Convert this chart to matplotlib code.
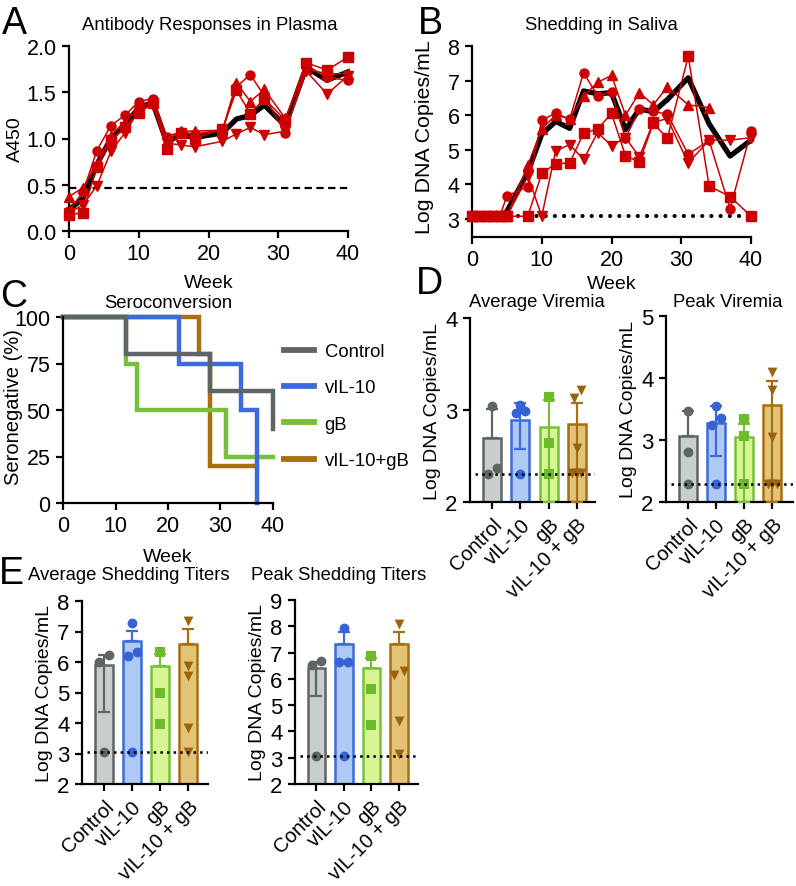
import numpy as np
import matplotlib
matplotlib.use("Agg")
import matplotlib.pyplot as plt
from matplotlib.lines import Line2D

plt.rcParams['font.family'] = ['Liberation Sans', 'DejaVu Sans']

W, H = 796, 887
RED = '#cc0000'

# ---- panel A: antibody responses (A450) ----
weeks_a = [0, 2, 4, 6, 8, 10, 12, 14, 16, 18, 22, 24, 26, 28, 31, 34, 37, 40]
circle_a = [0.22, 0.42, 0.87, 1.14, 1.25, 1.40, 1.43, 1.02, 1.07, 1.05, 1.09, 1.56, 1.69, 1.46, 1.06, 1.78, 1.66, 1.63]
square_a = [0.17, 0.20, 0.69, 0.98, 1.12, 1.28, 1.38, 0.89, 1.06, 1.00, 1.10, 1.52, 1.27, 1.43, 1.20, 1.82, 1.74, 1.88]
triup_a = [0.37, 0.47, 0.72, 1.03, 1.18, 1.33, 1.40, 0.97, 1.08, 1.08, 1.09, 1.60, 1.40, 1.53, 1.22, 1.75, 1.70, 1.70]
tridown_a = [0.20, 0.28, 0.49, 0.86, 1.06, 1.30, 1.36, 0.95, 0.93, 0.91, 0.97, 1.05, 1.12, 1.04, 1.08, 1.73, 1.48, 1.68]
mean_a = [0.23, 0.35, 0.72, 1.00, 1.15, 1.33, 1.39, 0.96, 1.04, 1.01, 1.06, 1.21, 1.25, 1.36, 1.14, 1.77, 1.63, 1.72]
cutoff_a = 0.47

# ---- panel B: shedding in saliva ----
weeks_b = [0, 1, 2, 3, 4, 5, 8, 10, 12, 14, 16, 18, 20, 22, 24, 26, 28, 31, 34, 37, 40]
circle_b = [3.08, 3.08, 3.08, 3.08, 3.08, 3.67, 3.93, 5.86, 6.06, 5.88, 7.23, 6.56, 6.68, 5.33, 6.18, 6.11, 6.03, 4.87, 5.27, 3.30, 5.53]
square_b = [3.08, 3.08, 3.08, 3.08, 3.08, 3.08, 3.08, 4.32, 4.60, 4.62, 5.48, 5.60, 6.05, 4.83, 4.65, 5.77, 5.33, 7.70, 3.95, 3.65, 3.08]
triup_b = [3.08, 3.08, 3.08, 3.08, 3.08, 3.08, 4.55, 5.60, 6.00, 5.90, 6.55, 6.95, 7.15, 6.00, 6.65, 6.30, 6.82, 6.30, 6.22, np.nan, np.nan]
tridown_b = [3.08, 3.08, 3.08, 3.08, 3.08, 3.08, 4.25, 3.08, 4.97, 5.15, 4.72, 5.50, 5.12, 5.35, 4.80, 5.80, 5.90, 4.62, 5.28, 5.28, 5.35]
mean_b = [3.08, 3.08, 3.08, 3.08, 3.08, 3.22, 4.35, 5.45, 5.82, 5.62, 6.70, 6.62, 6.65, 5.58, 6.18, 6.10, 6.45, 7.08, 5.75, 4.82, 5.28]
lod_b = 3.08

# ---- panel C: seroconversion ----
groups = ['Control', 'vIL-10', 'gB', 'vIL-10+gB']
surv_t = {'Control': [0, 12, 28, 40], 'vIL-10': [0, 22, 34, 37],
          'gB': [0, 12, 14, 31, 40], 'vIL-10+gB': [0, 26, 28, 37]}
surv_s = {'Control': [100, 80, 60, 40], 'vIL-10': [100, 75, 50, 0],
          'gB': [100, 75, 50, 25, 25], 'vIL-10+gB': [100, 80, 20, 20]}

# ---- panels D/E: bar charts ----
bar_cats = ['Control', 'vIL-10', 'gB', 'vIL-10 + gB']

avgvir_bar = [2.70, 2.89, 2.82, 2.85]
avgvir_hi = [3.01, 3.08, 3.11, 3.08]
avgvir_lo = [2.70, 2.58, 2.00, 2.00]
avgvir_pts = [[3.04, 2.37, 2.30], [3.05, 2.97, 2.99, 2.30], [3.14, 2.64, 2.30],
              [3.22, 3.13, 2.59, 2.32, 2.32, 2.32]]
avgvir_lod = 2.30

peakvir_bar = [3.07, 3.27, 3.05, 3.57]
peakvir_hi = [3.47, 3.55, 3.26, 3.95]
peakvir_lo = [3.07, 2.74, 2.00, 2.00]
peakvir_pts = [[3.46, 2.81, 2.29], [3.55, 3.35, 3.24, 2.29], [3.34, 3.07, 2.29],
               [4.09, 3.80, 3.05, 2.29, 2.29, 2.29]]
peakvir_lod = 2.29

avgshed_bar = [5.89, 6.68, 5.86, 6.58]
avgshed_hi = [6.22, 7.03, 6.25, 7.09]
avgshed_lo = [4.37, 6.68, 5.86, 6.58]
avgshed_pts = [[6.00, 6.22, 3.06], [7.27, 6.20, 6.33, 3.06], [6.34, 5.00, 3.97],
               [7.33, 5.88, 5.55, 3.84, 3.06]]
avgshed_lod = 3.06

peakshed_bar = [6.40, 7.32, 6.40, 7.32]
peakshed_hi = [6.65, 7.79, 6.78, 7.79]
peakshed_lo = [5.36, 7.32, 6.40, 7.32]
peakshed_pts = [[6.52, 6.69, 3.08], [7.92, 6.63, 6.63, 3.08], [6.88, 5.61, 4.24],
                [8.08, 6.14, 6.31, 4.41, 3.14]]
peakshed_lod = 3.06

# styling
line_col = {'Control': '#5f6566', 'vIL-10': '#3d6bd9', 'gB': '#78c03c', 'vIL-10+gB': '#a86f10'}
bar_face = ['#c8cecb', '#adc9f4', '#d8f593', '#e3c378']
bar_edge = ['#5f6566', '#3d6bd9', '#78c03c', '#a86f10']
pt_col = ['#5f6566', '#3563d6', '#6cbb28', '#9a640d']
pt_mark = ['o', 'o', 's', 'v']

TICK_FS = 15.5


def px_axes(left, top, right, bottom):
    return fig.add_axes([left / W, 1 - bottom / H, (right - left) / W, (bottom - top) / H])


def style(ax, fs=TICK_FS):
    for s in ['top', 'right']:
        ax.spines[s].set_visible(False)
    for s in ['left', 'bottom']:
        ax.spines[s].set_linewidth(1.6)
    ax.tick_params(direction='out', length=5, width=1.6, labelsize=fs, pad=4)


def ftext(x, y, s, **kw):
    fig.text(x / W, 1 - y / H, s, **kw)


fig = plt.figure(figsize=(W / 100, H / 100), dpi=100)

# ---- A ----
ax = px_axes(69, 47, 348, 232)
style(ax)
ax.plot(weeks_a, mean_a, color='black', lw=3.8, zorder=2, clip_on=False)
for ys, m in [(circle_a, 'o'), (square_a, 's'), (triup_a, '^'), (tridown_a, 'v')]:
    ax.plot(weeks_a, ys, color=RED, lw=1.1, marker=m, ms=6.5, zorder=3, clip_on=False)
ax.plot([0, 40], [cutoff_a, cutoff_a], color='black', lw=1.6, ls=(0, (3.3, 2)), zorder=1)
ax.set_xlim(0, 40)
ax.set_ylim(0, 2.0)
ax.set_xticks([0, 10, 20, 30, 40])
ax.set_yticks([0, 0.5, 1.0, 1.5, 2.0])
ax.set_yticklabels(['0.0', '0.5', '1.0', '1.5', '2.0'])
ax.set_xlabel('Week', fontsize=14, labelpad=7)
ax.set_ylabel('A450', fontsize=14, labelpad=2)
ftext(210, 25, 'Antibody Responses in Plasma', fontsize=13.3, ha='center', va='center')
ftext(14, 24, 'A', fontsize=27, ha='center', va='center')

# ---- B ----
ax = px_axes(472, 47, 751, 238)
style(ax)
ax.plot([0, 40], [lod_b, lod_b], color='black', lw=3, ls=(0, (0.01, 2.2)),
        dash_capstyle='round', zorder=1)
ax.plot(weeks_b, mean_b, color='black', lw=3.8, zorder=2, clip_on=False)
for ys, m in [(circle_b, 'o'), (square_b, 's'), (triup_b, '^'), (tridown_b, 'v')]:
    ax.plot(weeks_b, ys, color=RED, lw=1.1, marker=m, ms=6.5, zorder=3, clip_on=False)
ax.set_xlim(0, 40)
ax.set_ylim(2.48, 8)
ax.set_xticks([0, 10, 20, 30, 40])
ax.set_yticks([3, 4, 5, 6, 7, 8])
ax.set_xlabel('Week', fontsize=14, labelpad=3)
ax.set_ylabel('Log DNA Copies/mL', fontsize=15.4)
ax.yaxis.set_label_coords((434 - 472) / 279, 0.53)
ftext(601, 25, 'Shedding in Saliva', fontsize=13.3, ha='center', va='center')
ftext(430, 24, 'B', fontsize=27, ha='center', va='center')

# ---- C ----
ax = px_axes(63, 318, 273, 504)
style(ax)
handles = []
for g in ['vIL-10+gB', 'gB', 'vIL-10', 'Control']:
    ax.step(surv_t[g], surv_s[g], where='post', color=line_col[g], lw=3.2,
            clip_on=False, solid_joinstyle='miter')
for g in groups:
    handles.append(Line2D([], [], color=line_col[g], lw=4.2))
ax.set_xlim(0, 40)
ax.set_ylim(0, 100)
ax.set_xticks([0, 10, 20, 30, 40])
ax.set_yticks([0, 25, 50, 75, 100])
ax.set_xlabel('Week', fontsize=14, labelpad=8)
ax.set_ylabel('Seronegative (%)', fontsize=14.5)
ax.yaxis.set_label_coords((23 - 63) / 210, 0.52)
fig.legend(handles, groups, loc='upper left', bbox_to_anchor=(284 / W, 1 - 344 / H),
           frameon=False, fontsize=13.3, handlelength=1.65, handletextpad=0.55,
           labelspacing=1.05, borderpad=0, borderaxespad=0)
ftext(168, 304, 'Seroconversion', fontsize=13.3, ha='center', va='center')
ftext(14, 297, 'C', fontsize=27, ha='center', va='center')


def bar_panel(ax, bars, hi, lo, pts, lod, ylim, yticks, xmax, offsets):
    style(ax, fs=16)
    x = np.arange(len(bars))
    ax.bar(x, bars, width=0.64, color=bar_face, edgecolor=bar_edge, linewidth=1.8, zorder=2)
    for i in range(len(bars)):
        ax.errorbar([x[i]], [bars[i]], yerr=[[bars[i] - lo[i]], [hi[i] - bars[i]]],
                    fmt='none', ecolor=bar_edge[i], elinewidth=1.6, capsize=4,
                    capthick=1.6, zorder=3)
        ax.scatter(x[i] + np.array(offsets[i]), pts[i], marker=pt_mark[i],
                   s=50, color=pt_col[i], zorder=4, linewidths=0, clip_on=False)
    ax.plot([-0.6, xmax], [lod, lod], color='black', lw=1.8, ls=':', zorder=5)
    ax.set_xlim(-0.78, xmax)
    ax.set_ylim(*ylim)
    ax.set_yticks(yticks)
    ax.set_xticks(x)
    ax.set_xticklabels(bar_cats, rotation=45, ha='right', rotation_mode='anchor', fontsize=14.5)
    ax.set_ylabel('Log DNA Copies/mL', fontsize=14, labelpad=3)


off_avgvir = [[0, 0.16, -0.16], [0, -0.16, 0.16, 0], [0, 0, 0], [0.16, -0.1, 0, -0.16, 0, 0.16]]
off_peakvir = [[0, 0, 0], [0, 0.16, -0.16, 0], [0, 0, 0], [0, 0, 0, -0.16, 0, 0.16]]
off_avgshed = [[-0.18, 0.18, 0], [0, -0.16, 0.16, 0], [0, 0, 0], [0, 0, 0, 0, 0]]
off_peakshed = [[-0.15, 0.15, 0], [0, -0.16, 0.16, 0], [0, 0, 0], [0, -0.18, 0.18, 0, 0]]

# ---- D ----
ax = px_axes(470, 319, 595, 503)
bar_panel(ax, avgvir_bar, avgvir_hi, avgvir_lo, avgvir_pts, avgvir_lod, (2, 4), [2, 3, 4], 3.64, off_avgvir)
ftext(537, 303, 'Average Viremia', fontsize=13.3, ha='center', va='center')
ax = px_axes(666, 317, 793, 503)
bar_panel(ax, peakvir_bar, peakvir_hi, peakvir_lo, peakvir_pts, peakvir_lod, (2, 5), [2, 3, 4, 5], 3.73, off_peakvir)
ftext(728, 303, 'Peak Viremia', fontsize=13.3, ha='center', va='center')
ftext(429, 284, 'D', fontsize=27, ha='center', va='center')

# ---- E ----
ax = px_axes(82, 602, 208, 785)
bar_panel(ax, avgshed_bar, avgshed_hi, avgshed_lo, avgshed_pts, avgshed_lod, (2, 8), [2, 3, 4, 5, 6, 7, 8], 3.7, off_avgshed)
ftext(129, 575, 'Average Shedding Titers', fontsize=13.3, ha='center', va='center')
ax = px_axes(295, 601, 418, 785)
bar_panel(ax, peakshed_bar, peakshed_hi, peakshed_lo, peakshed_pts, peakshed_lod, (2, 9), [2, 3, 4, 5, 6, 7, 8, 9], 3.7, off_peakshed)
ftext(339, 575, 'Peak Shedding Titers', fontsize=13.3, ha='center', va='center')
ftext(11, 574, 'E', fontsize=27, ha='center', va='center')

fig.savefig('out.png', dpi=100)
